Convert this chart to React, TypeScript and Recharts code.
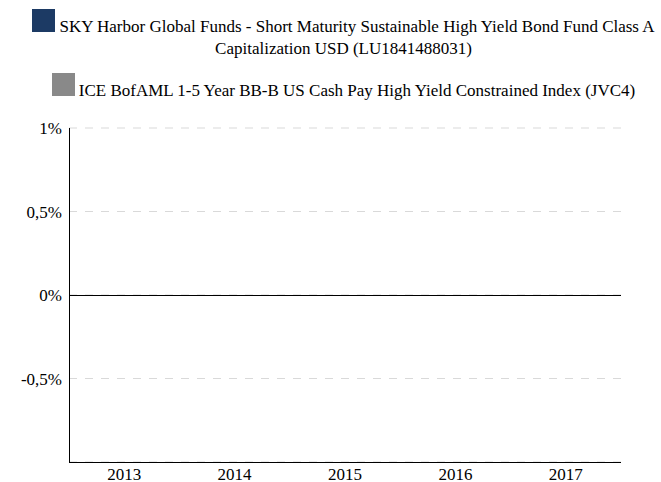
import { BarChart, Bar, XAxis, YAxis, CartesianGrid, Legend, ReferenceLine } from "recharts";

const years = ["2013", "2014", "2015", "2016", "2017"];
const fundValues = [0, 0, 0, 0, 0];
const indexValues = [0, 0, 0, 0, 0];
const yTicks = [-0.5, 0, 0.5, 1];

const fundName =
  "SKY Harbor Global Funds - Short Maturity Sustainable High Yield Bond Fund Class A Capitalization USD (LU1841488031)";
const indexName = "ICE BofAML 1-5 Year BB-B US Cash Pay High Yield Constrained Index (JVC4)";
const seriesOrder = [fundName, indexName];

const data = years.map((year, i) => ({
  year,
  fund: fundValues[i],
  index: indexValues[i],
}));

const font = "Liberation Serif";

function formatPct(v: number) {
  return `${String(v).replace(".", ",")}%`;
}

function renderLegend(props: any) {
  const payload = [...(props.payload || [])].sort(
    (a: any, b: any) => seriesOrder.indexOf(a.value) - seriesOrder.indexOf(b.value)
  );
  return (
    <div
      style={{
        fontFamily: font,
        fontSize: 17,
        lineHeight: "22px",
        color: "#000",
        textAlign: "center",
        paddingLeft: 26,
        paddingTop: 16,
        height: 128,
        boxSizing: "border-box",
      }}
    >
      {payload.map((entry: any) => (
        <div key={entry.value} style={{ marginBottom: 20 }}>
          <span
            style={{
              display: "inline-block",
              width: 23,
              height: 23,
              marginTop: -7,
              background: entry.color,
              marginRight: 4,
            }}
          />
          {entry.value}
        </div>
      ))}
    </div>
  );
}

export default function App() {
  return (
    <div style={{ position: "absolute", left: 0, top: 0, background: "#fff", fontFamily: font }}>
      <BarChart
        width={661}
        height={482}
        data={data}
        margin={{ top: 0, right: 40, bottom: 0, left: 0 }}
      >
        <Legend
          verticalAlign="top"
          align="center"
          content={renderLegend}
          wrapperStyle={{ top: 0, left: 0, width: 661 }}
        />
        <CartesianGrid
          vertical={false}
          stroke="#d9d9d9"
          strokeDasharray="8 8"
        />
        <XAxis
          dataKey="year"
          height={20}
          axisLine={{ stroke: "#000", shapeRendering: "crispEdges" }}
          tickLine={false}
          tickSize={4}
          tickMargin={2}
          tick={{ fill: "#000", fontSize: 17, fontFamily: font }}
        />
        <YAxis
          width={69}
          domain={[-1, 1]}
          ticks={yTicks}
          tickFormatter={formatPct}
          axisLine={{ stroke: "#000", shapeRendering: "crispEdges" }}
          tickLine={false}
          tickSize={5}
          tickMargin={2}
          tick={{ fill: "#000", fontSize: 17, fontFamily: font }}
        />
        <ReferenceLine y={0} stroke="#000" shapeRendering="crispEdges" />
        <Bar dataKey="fund" name={fundName} fill="#1c3a64" isAnimationActive={false} />
        <Bar dataKey="index" name={indexName} fill="#898989" isAnimationActive={false} />
      </BarChart>
    </div>
  );
}
